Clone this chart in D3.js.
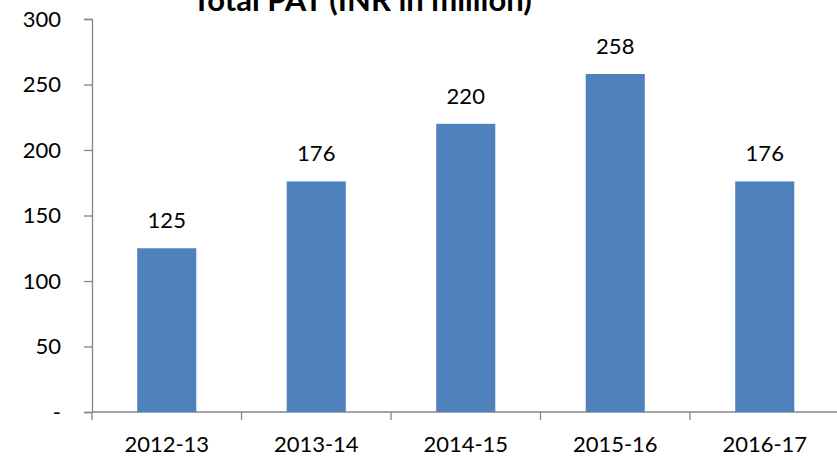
<!DOCTYPE html>
<html><head><meta charset="utf-8">
<script src="https://cdn.jsdelivr.net/npm/d3@7"></script>
<style>body{margin:0;background:#fff}svg{display:block}</style>
</head><body>
<script>
const categories = ["2012-13","2013-14","2014-15","2015-16","2016-17"];
const values = [125,176,220,258,176];
const yTicks = [0,50,100,150,200,250,300];
const title = "Total PAT (INR in million)";

const W = 837, H = 460;
const font = "Lato, 'Open Sans', sans-serif";
const svg = d3.select("body").append("svg").attr("width", W).attr("height", H);
const x0 = 92, y0 = 412, yTop = 19;
const x = d3.scaleBand().domain(categories).range([x0, x0 + 5*149.5]).paddingInner(0.605).paddingOuter(0.3025);
const y = d3.scaleLinear().domain([0,300]).range([y0, yTop]);
const axisColor = "#868686";

// y axis
const ya = svg.append("g").attr("transform", `translate(${x0},0)`)
  .call(d3.axisLeft(y).tickValues(yTicks).tickSize(8).tickFormat(d => d === 0 ? "-" : d));
ya.select(".domain").attr("stroke", axisColor).attr("stroke-width", 1.3);
ya.selectAll(".tick line").attr("stroke", axisColor).attr("stroke-width", 1.3);
ya.selectAll(".tick text").attr("font-family", font).attr("font-size", 22).attr("fill", "#000").attr("x", -31);

// x axis
const xa = svg.append("g").attr("transform", `translate(0,${y0})`);
xa.append("line").attr("x1", x0).attr("x2", W).attr("y1", 0).attr("y2", 0).attr("stroke", axisColor).attr("stroke-width", 1.3);
d3.range(categories.length + 1).forEach(i => {
  xa.append("line").attr("x1", x0 + i*x.step()).attr("x2", x0 + i*x.step()).attr("y1", 0).attr("y2", 8).attr("stroke", axisColor).attr("stroke-width", 1.3);
});
xa.selectAll("text.cat").data(categories).join("text").attr("class","cat")
  .attr("x", d => x(d) + x.bandwidth()/2).attr("y", 40)
  .attr("text-anchor","middle").attr("font-family", font).attr("font-size", 22).attr("fill","#000").text(d => d);

// bars
svg.selectAll("rect.bar").data(values).join("rect").attr("class","bar")
  .attr("x", (d,i) => x(categories[i])).attr("width", x.bandwidth())
  .attr("y", d => y(d)).attr("height", d => y0 - y(d)).attr("fill", "#4F81BD");

// labels
svg.selectAll("text.lbl").data(values).join("text").attr("class","lbl")
  .attr("x", (d,i) => x(categories[i]) + x.bandwidth()/2).attr("y", d => y(d) - 20)
  .attr("text-anchor","middle").attr("font-family", font).attr("font-size", 22).attr("fill","#000").text(d => d);

// title
svg.append("text").attr("x", 362).attr("y", 11).attr("text-anchor","middle")
  .attr("font-family", font).attr("font-weight","bold").attr("font-size", 31).attr("fill","#000").text(title);
</script>
</body></html>
